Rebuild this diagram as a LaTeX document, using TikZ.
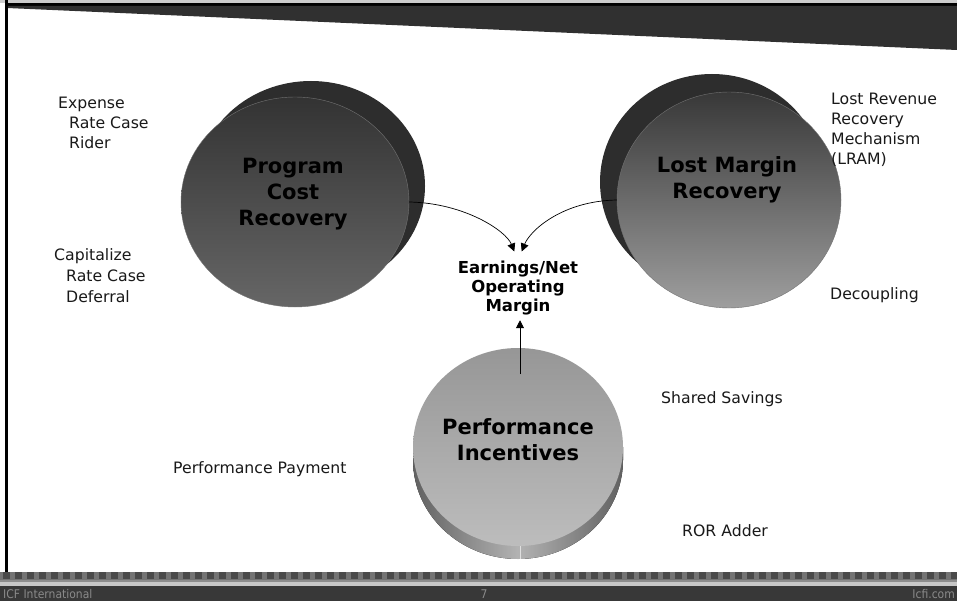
\documentclass[tikz,border=0pt]{standalone}
\usepackage{fontspec}
\setmainfont{DejaVu Sans}
\newfontfamily\condfont{DejaVu Sans Condensed}
\usetikzlibrary{shapes.geometric,arrows.meta}
\definecolor{shadowc}{HTML}{2D2D2D}
\definecolor{barc}{HTML}{383838}
\definecolor{wedgec}{HTML}{303030}
\definecolor{chkdark}{HTML}{4A4A4A}
\definecolor{chkmid}{HTML}{747474}
\definecolor{foott}{HTML}{8A8A8A}
\begin{document}
\begin{tikzpicture}[x=1pt,y=-1pt,
  lbl/.style={anchor=base west, inner sep=0pt, font=\fontsize{15.7}{20}\selectfont, text=black!90},
  ctext/.style={align=center, inner sep=0pt, font=\fontsize{21}{26}\selectfont\bfseries, text=black},
  disc/.style={ellipse, inner sep=0pt, draw=none},
  conn/.style={draw=black, line width=0.7pt, -{Triangle[length=8pt,width=8pt]}},
  foot/.style={inner sep=0pt, font=\condfont\fontsize{12}{13}\selectfont, text=foott}]
\useasboundingbox (0,0) rectangle (957,601);
\fill[white] (0,0) rectangle (957,601);
% top banner
\fill[black!20] (0,0) rectangle (957,3);
\fill[black] (5,3) rectangle (957,6);
\fill[wedgec] (7,6) -- (957,6) -- (957,50) -- (7,8) -- cycle;
\fill[black] (5,0) rectangle (7.5,572);
% footer
\fill[chkmid] (0,572) rectangle (957,580);
\foreach \i in {0,...,80} { \fill[chkdark] (\i*12+3,572) rectangle ++(7,7); }
\fill[black!45] (0,580) rectangle (957,582);
\fill[black!22] (0,582) rectangle (957,585.5);
\fill[barc] (0,585.5) rectangle (957,601);
\node[foot, anchor=west] (icf) at (3,594) {ICF International};
\node[foot] (pg) at (484,594) {7};
\node[foot, anchor=east] (web) at (955,594) {Icfi.com};
% shadows
\node[disc, fill=shadowc, minimum width=228, minimum height=210] (pcrs) at (311,186) {};
\node[disc, fill=shadowc, minimum width=224, minimum height=216] (lmrs) at (712,182) {};
% front discs
\node[disc, draw=black!55, line width=0.4pt, top color=black!80, bottom color=black!60,
      minimum width=228, minimum height=210] (pcr) at (295,202) {};
\node[disc, draw=black!55, line width=0.4pt, top color=black!78, bottom color=black!38,
      minimum width=224, minimum height=216] (lmr) at (729,200) {};
% performance cylinder side
\fill[left color=black!62, right color=black!62, middle color=black!30]
  (413,447) -- (413,460) arc[start angle=180, end angle=0, x radius=105, y radius=99] -- (623,447) -- cycle;
\draw[black!12, line width=0.6pt] (520,545) -- (520,559);
\node[disc, top color=black!41, bottom color=black!26, minimum width=210, minimum height=198] (pi) at (518,447) {};
% texts in discs
\node[ctext] (pcrt) at (293,194) {Program\\Cost\\Recovery};
\node[ctext] (lmrt) at (727,180) {Lost Margin\\Recovery};
\node[ctext] (pit) at (518,440) {Performance\\Incentives};
\node[align=center, inner sep=0pt, font=\fontsize{16.5}{19}\selectfont\bfseries] (earn) at (518,288) {Earnings/Net\\Operating\\Margin};
% connectors
\coordinate (vstart) at (520,374);
\draw[conn, shorten >=10pt] (pcr.east) .. controls +(55,1) and +(-12,-30) .. (earn.north);
\draw[conn, shorten >=10pt] (lmr.west) .. controls +(-55,1) and +(12,-30) .. (earn.north);
\draw[conn, shorten >=5pt] (vstart) -- (vstart |- earn.south);
% labels
\node[lbl] (e1) at (58,109) {Expense};
\node[lbl] (e2) at (69,129) {Rate Case};
\node[lbl] (e3) at (69,149) {Rider};
\node[lbl] (c1) at (54,261) {Capitalize};
\node[lbl] (c2) at (66,281) {Rate Case};
\node[lbl] (c3) at (66,302) {Deferral};
\node[lbl] (r1) at (831,105) {Lost Revenue};
\node[lbl] (r2) at (831,125) {Recovery};
\node[lbl] (r3) at (831,145) {Mechanism};
\node[lbl] (r4) at (831,165) {(LRAM)};
\node[lbl] (dec) at (830,299) {Decoupling};
\node[lbl] (ss) at (661,403) {Shared Savings};
\node[lbl] (ror) at (682,536) {ROR Adder};
\node[lbl] (pp) at (173,473) {Performance Payment};
\end{tikzpicture}
\end{document}
